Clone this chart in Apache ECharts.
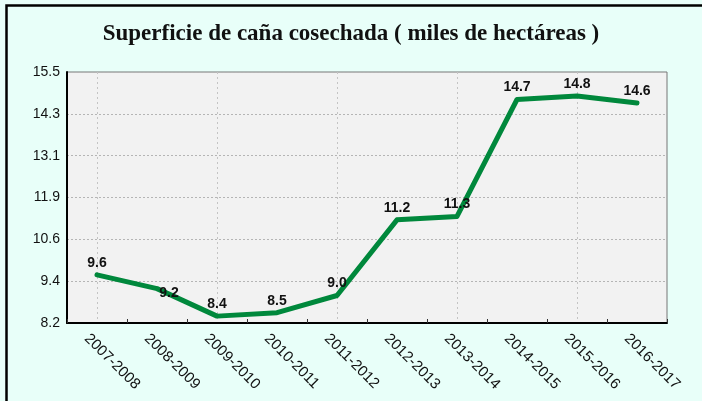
<!DOCTYPE html>
<html>
<head>
<meta charset="utf-8">
<script src="https://cdn.jsdelivr.net/npm/echarts@6/dist/echarts.min.js"></script>
<style>
html,body{margin:0;padding:0;background:#e8fff9;}
#c{width:702px;height:401px;}
</style>
</head>
<body>
<div id="c"></div>
<script>
const titleText = 'Superficie de caña cosechada ( miles de hectáreas )';
const categories = ['2007-2008','2008-2009','2009-2010','2010-2011','2011-2012','2012-2013','2013-2014','2014-2015','2015-2016','2016-2017'];
const values = [9.6, 9.2, 8.4, 8.5, 9.0, 11.2, 11.3, 14.7, 14.8, 14.6];
const yTickLabels = ['8.2','9.4','10.6','11.9','13.1','14.3','15.5'];
const yMin = 8.2, yMax = 15.5;

const yInterval = (yMax - yMin) / (yTickLabels.length - 1);
const chart = echarts.init(document.getElementById('c'), null, {renderer:'canvas'});
const seriesData = values.map((v, i) => i === 1 ? {value: v, label: {offset: [12, 17]}} : v);

chart.setOption({
  backgroundColor: '#e8fff9',
  animation: false,
  title: {
    text: titleText,
    left: 'center',
    top: 18,
    textStyle: {fontFamily: 'Liberation Serif', fontWeight: 'bold', fontSize: 23, color: '#111'}
  },
  graphic: [{
    type: 'rect', silent: true, z: 100,
    shape: {x: 6.5, y: 5.5, width: 900, height: 600},
    style: {fill: 'none', stroke: '#000', lineWidth: 2.5}
  }],
  grid: {
    left: 67, right: 35, top: 72, bottom: 78,
    show: true, backgroundColor: '#f2f2f2', borderColor: '#777', borderWidth: 1
  },
  xAxis: [{
    type: 'category',
    data: categories,
    boundaryGap: true,
    axisLine: {show: true, lineStyle: {color: '#000', width: 2}},
    axisTick: {show: true, inside: true, length: 4, lineStyle: {color: '#333'}},
    axisLabel: {
      rotate: -45, margin: 3, fontFamily: 'Liberation Sans', fontSize: 15, color: '#111', interval: 0,
      verticalAlign: 'top', lineHeight: 15, padding: [7, 0, 0, 0]
    },
    splitLine: {show: false}
  }, {
    type: 'category',
    data: categories,
    position: 'bottom',
    boundaryGap: true,
    axisLine: {show: false},
    axisLabel: {show: false},
    axisTick: {show: false, alignWithLabel: true},
    splitLine: {show: true, alignWithLabel: true, lineStyle: {color: '#c4c4c4', type: [2, 3], width: 1}}
  }],
  yAxis: {
    type: 'value',
    min: yMin, max: yMax, interval: yInterval,
    axisLine: {show: true, lineStyle: {color: '#000', width: 2}},
    axisTick: {show: false},
    axisLabel: {
      margin: 7, fontFamily: 'Liberation Sans', fontSize: 14, color: '#111',
      formatter: v => yTickLabels[Math.round((v - yMin) / yInterval)] ?? ''
    },
    splitLine: {show: true, lineStyle: {color: '#b5b5b5', type: [2, 2], width: 1}}
  },
  series: [{
    type: 'line',
    data: seriesData,
    xAxisIndex: 0,
    symbol: 'circle',
    symbolSize: 4,
    itemStyle: {color: '#00883c'},
    lineStyle: {color: '#00883c', width: 5, cap: 'round', join: 'round'},
    label: {
      show: true, position: 'top', distance: 3,
      fontFamily: 'Liberation Sans', fontWeight: 'bold', fontSize: 14, color: '#111',
      formatter: p => Number(p.value).toFixed(1)
    }
  }]
});
</script>
</body>
</html>
